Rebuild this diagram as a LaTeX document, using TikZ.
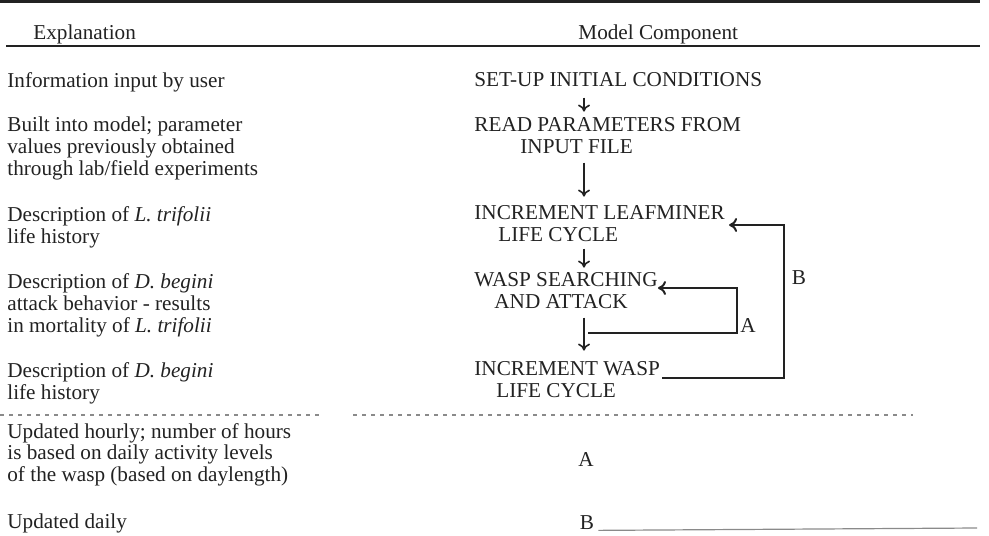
\documentclass[tikz,border=0pt]{standalone}
\usepackage{fontspec}
\setmainfont{Liberation Serif}
\usetikzlibrary{arrows.meta, calc, positioning}
\definecolor{ink}{HTML}{222222}
\definecolor{dotgray}{HTML}{8A8A8A}
\tikzset{
    textnode/.style = {draw=none, fill=none, rectangle, inner sep=0pt, anchor=base west,
      align=left, text=ink, font=\fontsize{10.6}{11}\selectfont},
    compnode/.style = {textnode},
    keynode/.style = {textnode, anchor=center},
    connect/.style = {ink, line width=0.8pt, -{To[length=3.5pt,width=6pt]}},
    feedback/.style = {ink, line width=1pt, -{To[length=4pt,width=7pt]}},
    rulenode/.style = {ink, line width=1.1pt},
    dotrule/.style = {dotgray, line width=1.2pt, dash pattern=on 2pt off 2.5pt},
    thinrule/.style = {dotgray, line width=0.6pt}
}
\begin{document}
\begin{tikzpicture}[x=0.5pt, y=-0.5pt]
    \useasboundingbox (0,0) rectangle (989,535);

    % table rules
    \draw[rulenode] (0,1.5) -- (980,1.5);
    \draw[rulenode] (6,46) -- (980,46);

    % headings
    \node [name=hexp, textnode] at (33,40) {Explanation};
    \node [name=hcomp, textnode] at (578,40) {Model Component};

    % explanation column (placed at the last baseline)
    \node [name=info, textnode] at (7,88) {Information input by user};
    \node [name=built, textnode] at (7,175) {Built into model; parameter\\values previously obtained\\through lab/field experiments};
    \node [name=ltri, textnode] at (7,243) {Description of \textit{L. trifolii}\\life history};
    \node [name=dbeg, textnode] at (7,332) {Description of \textit{D. begini}\\attack behavior - results\\in mortality of \textit{L. trifolii}};
    \node [name=dlife, textnode] at (7,399) {Description of \textit{D. begini}\\life history};

    % model components
    \node [name=setup, compnode] at (474,87) {SET-UP INITIAL CONDITIONS};
    \node [name=read, compnode] at (474,153) {READ PARAMETERS FROM\\\hspace*{23pt}INPUT FILE};
    \node [name=leaf, compnode] at (474,241) {INCREMENT LEAFMINER\\\hspace*{12pt}LIFE CYCLE};
    \node [name=wasp, compnode] at (474,308) {WASP SEARCHING\\\hspace*{10pt}AND ATTACK};
    \node [name=waspinc, compnode] at (474,397) {INCREMENT WASP\\\hspace*{11pt}LIFE CYCLE};

    % flow
    \coordinate (ax) at (584,0);
    \draw [connect, shorten <=5pt, shorten >=2.5pt] (setup.south -| ax) -- (read.north -| ax);
    \draw [connect, shorten <=4.5pt, shorten >=4pt] (read.south -| ax) -- (leaf.north -| ax);
    \draw [connect, shorten <=3.5pt, shorten >=2pt] (leaf.south -| ax) -- (wasp.north -| ax);
    \draw [connect, shorten <=4.5pt, shorten >=5pt] (wasp.south -| ax) -- (waspinc.north -| ax);

    % loop A (hourly)
    \coordinate (ajoin) at (588,333);
    \coordinate (atop) at (737,288);
    \draw [feedback] (ajoin) -| (atop) -- (atop -| wasp.east);
    \node [name=alab, keynode] at (748,325) {A};

    % loop B (daily)
    \coordinate (bbot) at (784,378);
    \coordinate (btop) at (784,225);
    \draw [feedback] ([xshift=1pt]waspinc.east |- bbot) -- (bbot) -- (btop) -- ([xshift=2pt]btop -| leaf.east);
    \node [name=blab, keynode] at (799,278) {B};

    % dotted separators
    \draw[dotrule] (0,415) -- (320,415);
    \draw[dotrule] (353,415) -- (913,415);

    % key
    \node [name=hourly, textnode, font=\fontsize{10.6}{9.3}\selectfont] at (7,481) {Updated hourly; number of hours\\is based on daily activity levels\\of the wasp (based on daylength)};
    \node [name=daily, textnode] at (7,528) {Updated daily};
    \node [name=akey, keynode] at (586,459) {A};
    \node [name=bkey, keynode] at (587,523) {B};
    \coordinate (tableend) at (977,528);
    \draw[thinrule] ([xshift=2pt]bkey.south east) -- (tableend);
\end{tikzpicture}
\end{document}
